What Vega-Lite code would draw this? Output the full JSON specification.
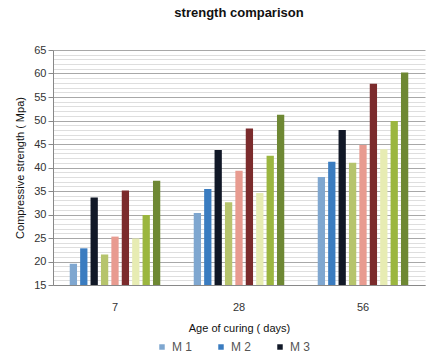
{
  "$schema": "https://vega.github.io/schema/vega-lite/v6.json",
  "width": 372,
  "height": 235,
  "autosize": "none",
  "padding": {"left": 53, "top": 50, "right": 6, "bottom": 74},
  "background": "white",
  "title": {"text": "strength comparison", "fontSize": 13, "fontWeight": "bold", "font": "Liberation Sans", "color": "#111", "offset": 24, "anchor": "middle"},
  "config": {"font": "Liberation Sans", "view": {"stroke": null}},
  "data": {"values": [
    {"age": "7", "mix": "M 1", "s": 19.5},
    {"age": "7", "mix": "M 2", "s": 22.8},
    {"age": "7", "mix": "M 3", "s": 33.6},
    {"age": "7", "mix": "M 4", "s": 21.5},
    {"age": "7", "mix": "M 5", "s": 25.3},
    {"age": "7", "mix": "M 6", "s": 35.1},
    {"age": "7", "mix": "M 7", "s": 24.9},
    {"age": "7", "mix": "M 8", "s": 29.9},
    {"age": "7", "mix": "M 9", "s": 37.2},
    {"age": "28", "mix": "M 1", "s": 30.3},
    {"age": "28", "mix": "M 2", "s": 35.4},
    {"age": "28", "mix": "M 3", "s": 43.7},
    {"age": "28", "mix": "M 4", "s": 32.6},
    {"age": "28", "mix": "M 5", "s": 39.3},
    {"age": "28", "mix": "M 6", "s": 48.3},
    {"age": "28", "mix": "M 7", "s": 34.6},
    {"age": "28", "mix": "M 8", "s": 42.5},
    {"age": "28", "mix": "M 9", "s": 51.2},
    {"age": "56", "mix": "M 1", "s": 38.0},
    {"age": "56", "mix": "M 2", "s": 41.2},
    {"age": "56", "mix": "M 3", "s": 48.0},
    {"age": "56", "mix": "M 4", "s": 41.0},
    {"age": "56", "mix": "M 5", "s": 44.8},
    {"age": "56", "mix": "M 6", "s": 57.8},
    {"age": "56", "mix": "M 7", "s": 43.9},
    {"age": "56", "mix": "M 8", "s": 49.9},
    {"age": "56", "mix": "M 9", "s": 60.2}
  ]},
  "mark": {"type": "bar", "clip": true},
  "encoding": {
    "x": {
      "field": "age", "type": "nominal", "sort": ["7", "28", "56"],
      "scale": {"paddingInner": 0.27, "paddingOuter": 0.135},
      "axis": {"title": "Age of curing ( days)", "labelAngle": 0, "labelFontSize": 11, "labelColor": "#333", "titleFontSize": 11, "titleFontWeight": "normal", "titleColor": "#111", "titlePadding": 10, "labelPadding": 16, "ticks": false, "domainColor": "#888", "grid": false}
    },
    "xOffset": {"field": "mix", "type": "nominal", "scale": {"paddingInner": 0.3}},
    "y": {
      "field": "s", "type": "quantitative",
      "scale": {"domain": [15, 65], "nice": false, "zero": false},
      "axis": {
        "title": "Compressive strength ( Mpa)",
        "values": [15,16,17,18,19,20,21,22,23,24,25,26,27,28,29,30,31,32,33,34,35,36,37,38,39,40,41,42,43,44,45,46,47,48,49,50,51,52,53,54,55,56,57,58,59,60,61,62,63,64,65],
        "labelExpr": "datum.value % 5 === 0 ? datum.label : ''",
        "labelFontSize": 11, "labelColor": "#333", "titleFontSize": 11, "titleFontWeight": "normal", "titleColor": "#111", "titlePadding": 8,
        "gridColor": {"condition": {"test": "datum.value % 5 === 0", "value": "#a8a8a8"}, "value": "#dedede"},
        "tickOpacity": {"condition": {"test": "datum.value % 5 === 0", "value": 1}, "value": 0},
        "tickColor": "#888", "domainColor": "#888", "tickSize": 5
      }
    },
    "color": {
      "field": "mix", "type": "nominal",
      "scale": {"domain": ["M 1","M 2","M 3","M 4","M 5","M 6","M 7","M 8","M 9"], "range": ["#7fa7d0","#3a7cc0","#111827","#b6c46c","#e89b90","#7b2b2c","#e7ecb3","#9bb63f","#6e8833"]},
      "legend": {"title": null, "orient": "none", "legendX": 103, "legendY": 291, "direction": "horizontal", "values": ["M 1","M 2","M 3"], "symbolType": "square", "symbolSize": 30, "labelFontSize": 12, "labelColor": "#555", "columnPadding": 22}
    }
  }
}
